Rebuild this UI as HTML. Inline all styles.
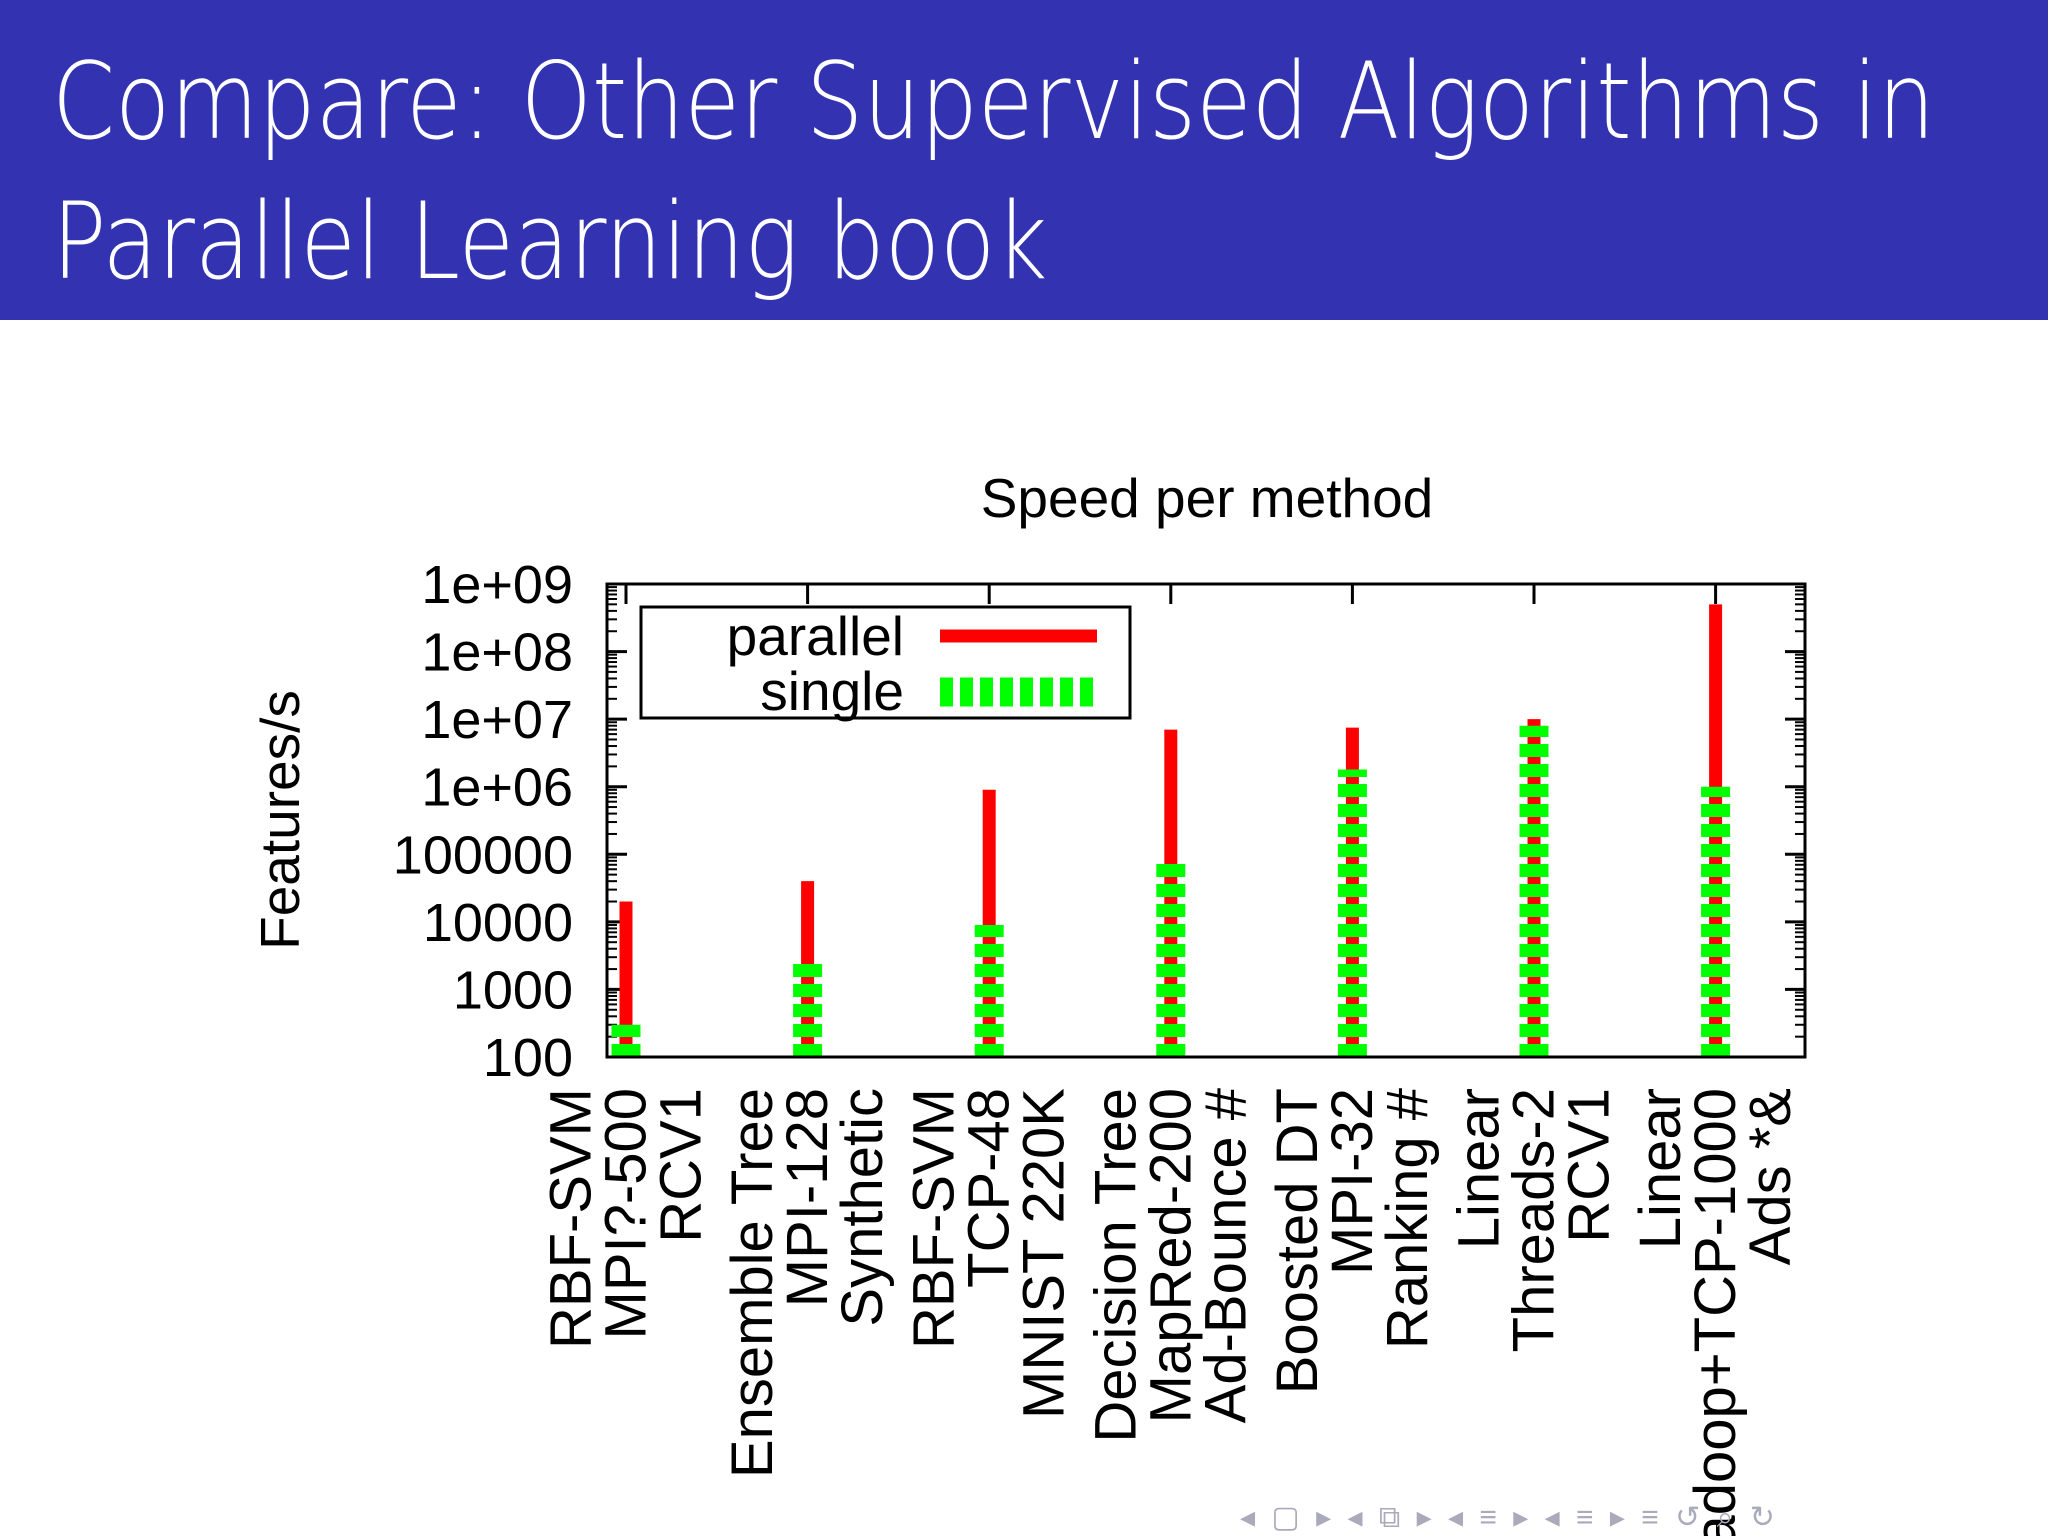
<!DOCTYPE html>
<html><head><meta charset="utf-8"><style>
body{margin:0;width:2048px;height:1536px;overflow:hidden;background:#fff;font-family:"Liberation Sans",sans-serif}
#hdr{position:absolute;left:0;top:0;width:2048px;height:320px;background:#3333b2}
.t{position:absolute;left:52px;color:#fff;font-family:"DejaVu Sans","Liberation Sans",sans-serif;font-size:106px;font-weight:200;white-space:nowrap;transform:scaleX(0.852);transform-origin:0 0}
</style></head><body>
<div id="hdr">
<div class="t" style="top:40px">Compare: Other Supervised Algorithms in</div>
<div class="t" style="top:180px">Parallel Learning book</div>
</div>
<svg id="c" width="2048" height="1536" style="position:absolute;left:0;top:0"></svg>
<script>
const categories=[["RBF-SVM","MPI?-500","RCV1"],["Ensemble Tree","MPI-128","Synthetic"],["RBF-SVM","TCP-48","MNIST 220K"],["Decision Tree","MapRed-200","Ad-Bounce #"],["Boosted DT","MPI-32","Ranking #"],["Linear","Threads-2","RCV1"],["Linear","Hadoop+TCP-1000","Ads *&"]];
const parallel=[20000,40000,900000,7000000,7500000,10000000,500000000];
const single=[300,2800,9000,90000,1800000,8000000,1000000];
const tickLabels=["100","1000","10000","100000","1e+06","1e+07","1e+08","1e+09"];
const tickValues=[1e2,1e3,1e4,1e5,1e6,1e7,1e8,1e9];

const svg=document.getElementById('c');const NS='http://www.w3.org/2000/svg';
const L=607,R=1805,T=584,B=1057;
const y=v=>B-(Math.log10(v)-2)/7*(B-T);
const x=i=>626+i*181.6;
function mk(tag,a,parent){const e=document.createElementNS(NS,tag);for(const k in a)e.setAttribute(k,a[k]);(parent||svg).appendChild(e);return e;}
let e;
e=mk('text',{x:1207,y:517,'text-anchor':'middle','font-size':55,fill:'#000'});e.textContent='Speed per method';


e=mk('text',{x:0,y:0,'text-anchor':'middle','font-size':55,fill:'#000',transform:'translate(299,820) rotate(-90)'});e.textContent='Features/s';


tickValues.forEach((v,i)=>{
 const yy=y(v);
 mk('line',{x1:L,x2:L+20,y1:yy,y2:yy,stroke:'#000','stroke-width':3});
 mk('line',{x1:R,x2:R-20,y1:yy,y2:yy,stroke:'#000','stroke-width':3});
 const t=mk('text',{x:573,y:yy+19,'text-anchor':'end','font-size':54,fill:'#000'});t.textContent=tickLabels[i];
 
 
 if(i<tickValues.length-1)for(let m=2;m<10;m++){const ym=y(v*m);
  mk('line',{x1:L,x2:L+10,y1:ym,y2:ym,stroke:'#000','stroke-width':2});
  mk('line',{x1:R,x2:R-10,y1:ym,y2:ym,stroke:'#000','stroke-width':2});}
});
categories.forEach((c,i)=>{
 const xx=x(i);
 mk('line',{x1:xx,x2:xx,y1:T,y2:T+20,stroke:'#000','stroke-width':3});
 const r=mk('line',{x1:xx,x2:xx,y1:B,y2:y(parallel[i]),stroke:'#f00','stroke-width':13});
 
 
 const g=mk('line',{x1:xx,x2:xx,y1:B,y2:y(single[i]),stroke:'#0f0','stroke-width':29,'stroke-dasharray':'13 7'});
 
 
 c.forEach((s,j)=>{const lx=xx-55+j*55;
  const t=mk('text',{x:0,y:0,'text-anchor':'end','dominant-baseline':'central','font-size':58,fill:'#000',transform:`translate(${lx},1088) rotate(-90)`});t.textContent=s;
  
  });
});
mk('rect',{x:L,y:T,width:R-L,height:B-T,fill:'none',stroke:'#000','stroke-width':3});
const lg=mk('g',{});


mk('rect',{x:641,y:607,width:489,height:111,fill:'#fff',stroke:'#000','stroke-width':3},lg);
e=mk('text',{x:904,y:655,'text-anchor':'end','font-size':55,fill:'#000'},lg);e.textContent='parallel';
e=mk('text',{x:904,y:710,'text-anchor':'end','font-size':55,fill:'#000'},lg);e.textContent='single';
mk('line',{x1:940,x2:1097,y1:636,y2:636,stroke:'#f00','stroke-width':13},lg);
mk('line',{x1:940,x2:1097,y1:692,y2:692,stroke:'#0f0','stroke-width':29,'stroke-dasharray':'13 7'},lg);
e=mk('text',{x:1240,y:1527,'font-size':30,fill:'#aab','letter-spacing':'4'});e.textContent='◂ ▢ ▸  ◂ ⧉ ▸  ◂ ≡ ▸  ◂ ≡ ▸   ≡   ↺ ⌕ ↻';


</script>
</body></html>
